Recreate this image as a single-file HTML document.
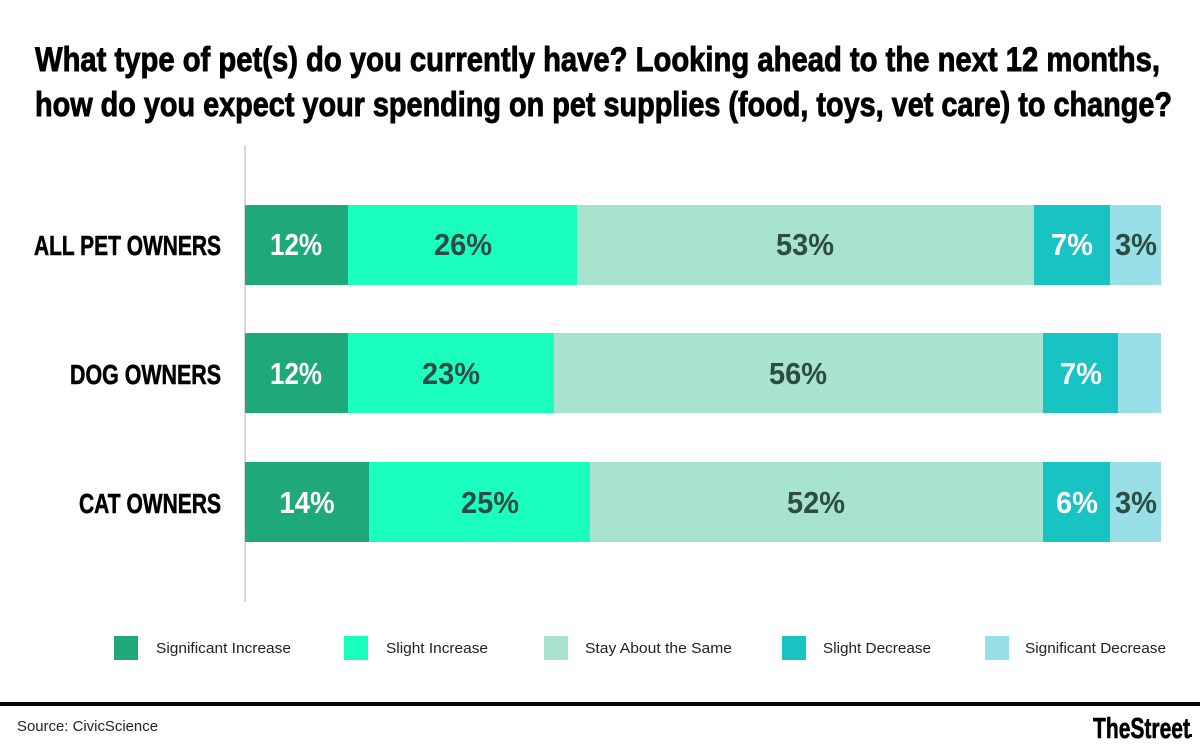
<!DOCTYPE html>
<html><head><meta charset="utf-8"><style>
html,body{margin:0;padding:0;background:#fff;}
svg{display:block;font-family:"Liberation Sans",sans-serif;}
</style></head><body>
<svg width="1200" height="748" viewBox="0 0 1200 748" xmlns="http://www.w3.org/2000/svg">
<rect width="1200" height="748" fill="#fff"/>
<g font-weight="bold" font-size="34" fill="#000" stroke="#000" stroke-width="0.9">
<text x="35" y="71" textLength="1125" lengthAdjust="spacingAndGlyphs">What type of pet(s) do you currently have? Looking ahead to the next 12 months,</text>
<text x="35" y="116" textLength="1137" lengthAdjust="spacingAndGlyphs">how do you expect your spending on pet supplies (food, toys, vet care) to change?</text>
</g>
<line x1="245" y1="145" x2="245" y2="602" stroke="#d9d9d9" stroke-width="2"/>
<rect x="245" y="205" width="103" height="80" fill="#1fa87a"/>
<rect x="348" y="205" width="229" height="80" fill="#1bffbe"/>
<rect x="577" y="205" width="457" height="80" fill="#a8e3d0"/>
<rect x="1034" y="205" width="76" height="80" fill="#18c3c3"/>
<rect x="1110" y="205" width="51" height="80" fill="#98dfe8"/>
<rect x="245" y="333" width="103" height="80" fill="#1fa87a"/>
<rect x="348" y="333" width="206" height="80" fill="#1bffbe"/>
<rect x="554" y="333" width="489" height="80" fill="#a8e3d0"/>
<rect x="1043" y="333" width="75" height="80" fill="#18c3c3"/>
<rect x="1118" y="333" width="43" height="80" fill="#98dfe8"/>
<rect x="245" y="462" width="124" height="80" fill="#1fa87a"/>
<rect x="369" y="462" width="221" height="80" fill="#1bffbe"/>
<rect x="590" y="462" width="453" height="80" fill="#a8e3d0"/>
<rect x="1043" y="462" width="67" height="80" fill="#18c3c3"/>
<rect x="1110" y="462" width="51" height="80" fill="#98dfe8"/>
<g font-weight="bold" font-size="28" fill="#000" stroke="#000" stroke-width="0.6" text-anchor="end">
<text x="221" y="255" textLength="187" lengthAdjust="spacingAndGlyphs">ALL PET OWNERS</text>
<text x="221" y="384" textLength="151" lengthAdjust="spacingAndGlyphs">DOG OWNERS</text>
<text x="221" y="513" textLength="142" lengthAdjust="spacingAndGlyphs">CAT OWNERS</text>
</g>
<g font-weight="bold" font-size="31" text-anchor="middle" fill="#2d4d44">
<text x="296" y="255" fill="#fff" textLength="52" lengthAdjust="spacingAndGlyphs">12%</text>
<text x="463" y="255" textLength="58" lengthAdjust="spacingAndGlyphs">26%</text>
<text x="805" y="255" textLength="58" lengthAdjust="spacingAndGlyphs">53%</text>
<text x="1072" y="255" fill="#fff" textLength="42" lengthAdjust="spacingAndGlyphs">7%</text>
<text x="1136" y="255" textLength="42" lengthAdjust="spacingAndGlyphs">3%</text>
<text x="296" y="384" fill="#fff" textLength="52" lengthAdjust="spacingAndGlyphs">12%</text>
<text x="451" y="384" textLength="58" lengthAdjust="spacingAndGlyphs">23%</text>
<text x="798" y="384" textLength="58" lengthAdjust="spacingAndGlyphs">56%</text>
<text x="1081" y="384" fill="#fff" textLength="42" lengthAdjust="spacingAndGlyphs">7%</text>
<text x="307" y="513" fill="#fff" textLength="55" lengthAdjust="spacingAndGlyphs">14%</text>
<text x="490" y="513" textLength="58" lengthAdjust="spacingAndGlyphs">25%</text>
<text x="816" y="513" textLength="58" lengthAdjust="spacingAndGlyphs">52%</text>
<text x="1077" y="513" fill="#fff" textLength="42" lengthAdjust="spacingAndGlyphs">6%</text>
<text x="1136" y="513" textLength="42" lengthAdjust="spacingAndGlyphs">3%</text>
</g>
<rect x="114" y="636" width="24" height="24" fill="#1fa87a"/>
<rect x="344" y="636" width="24" height="24" fill="#1bffbe"/>
<rect x="544" y="636" width="24" height="24" fill="#a8e3d0"/>
<rect x="782" y="636" width="24" height="24" fill="#18c3c3"/>
<rect x="985" y="636" width="24" height="24" fill="#98dfe8"/>
<g font-size="15" fill="#222">
<text x="156" y="653" textLength="135" lengthAdjust="spacingAndGlyphs">Significant Increase</text>
<text x="386" y="653" textLength="102" lengthAdjust="spacingAndGlyphs">Slight Increase</text>
<text x="585" y="653" textLength="147" lengthAdjust="spacingAndGlyphs">Stay About the Same</text>
<text x="823" y="653" textLength="108" lengthAdjust="spacingAndGlyphs">Slight Decrease</text>
<text x="1025" y="653" textLength="141" lengthAdjust="spacingAndGlyphs">Significant Decrease</text>
</g>
<rect x="0" y="702" width="1200" height="4" fill="#000"/>
<text x="17" y="731" font-size="15" fill="#222" textLength="141" lengthAdjust="spacingAndGlyphs">Source: CivicScience</text>
<text x="1093" y="738" font-size="29" font-weight="bold" fill="#000" stroke="#000" stroke-width="0.6" textLength="97" lengthAdjust="spacingAndGlyphs">TheStreet</text>
<rect x="1189" y="734" width="3" height="3" fill="#000"/>
</svg>
</body></html>
